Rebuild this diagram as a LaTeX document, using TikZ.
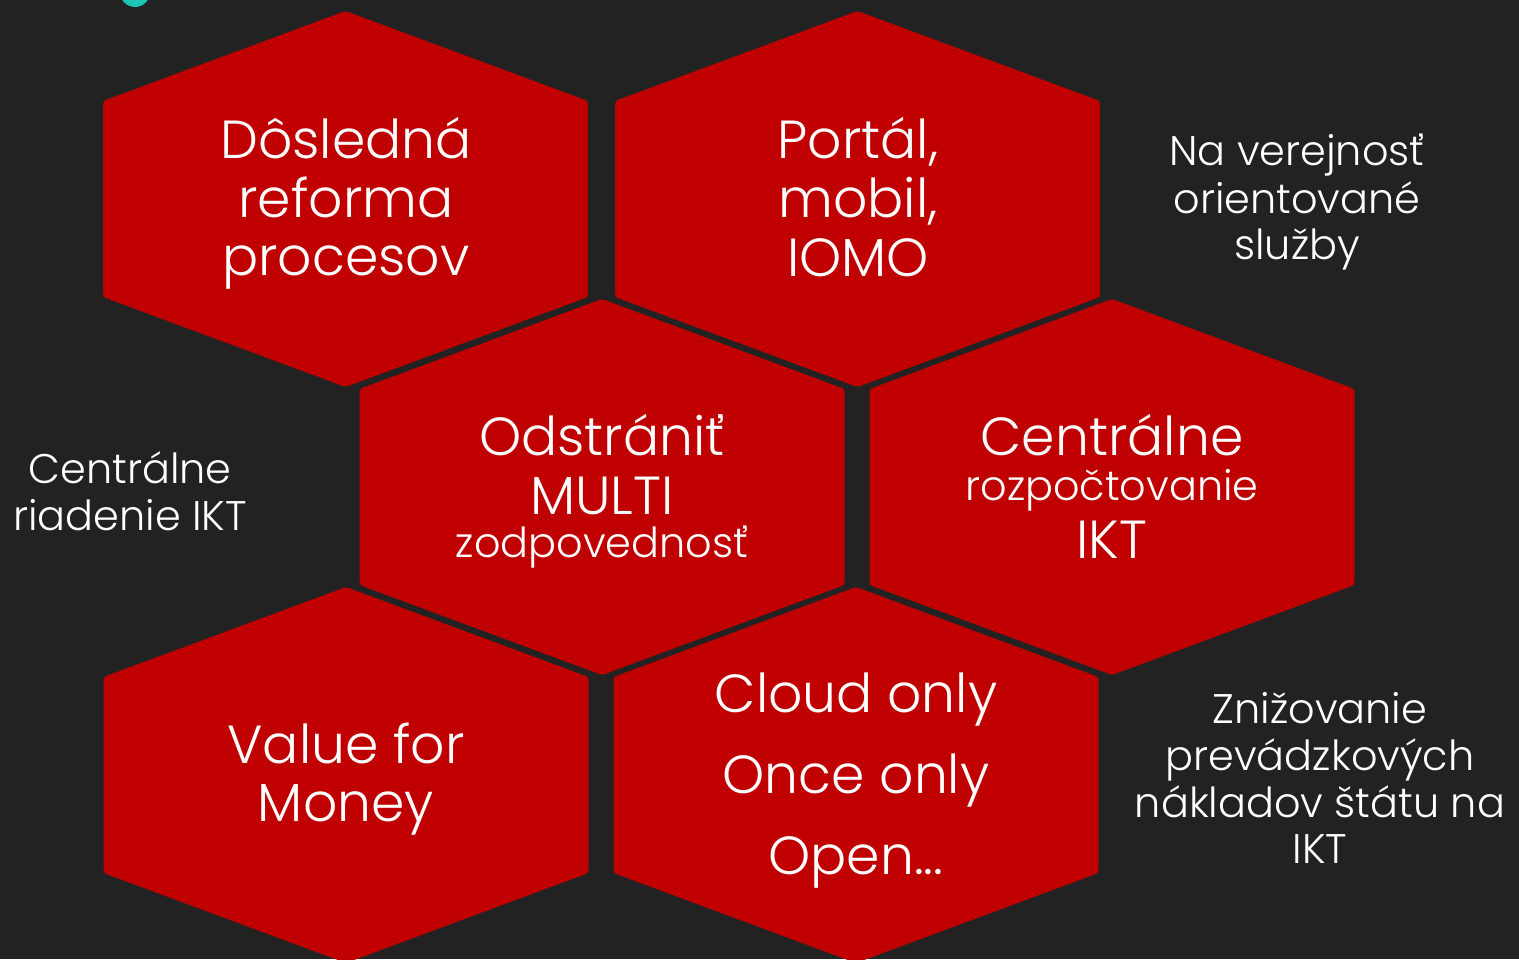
\documentclass[tikz,border=0pt]{standalone}
\usepackage{fontspec}
\setmainfont{Poppins Light}
\definecolor{bg}{HTML}{222222}
\definecolor{hexred}{HTML}{C00000}
\definecolor{tealmark}{RGB}{30,196,180}
\tikzset{
  hexfill/.style={fill=hexred, rounded corners=1.5pt},
  big/.style={text=white, inner sep=0pt, anchor=base, font=\fontsize{26.8pt}{29pt}\selectfont},
  small/.style={text=white, inner sep=0pt, anchor=base, font=\fontsize{20.7pt}{24pt}\selectfont},
}
\newcommand\hexat[2]{\fill[hexfill, shift={(#1,#2)}] (0,-188) -- (242.5,-98) -- (242.5,98) -- (0,188) -- (-242.5,98) -- (-242.5,-98) -- cycle;}
\begin{document}
\begin{tikzpicture}[x=0.5pt, y=-0.5pt]
\fill[bg] (0,0) rectangle (1519,959);
\useasboundingbox (0,0) rectangle (1519,959);
\begin{scope}
\clip (0,0) rectangle (1519,959);
\fill[tealmark] (135,-8) circle (15);
\hexat{345.5}{199}
\hexat{857.5}{199}
\hexat{602}{487}
\hexat{1112}{487}
\hexat{346}{775}
\hexat{856}{775}
\end{scope}
% hex 1
\node[big] (h1a) at (346,158) {Dôsledná};
\node[big] (h1b) at (346,217) {reforma};
\node[big] (h1c) at (346,275) {procesov};
% hex 2
\node[big] (h2a) at (858,158) {Portál,};
\node[big] (h2b) at (858,217) {mobil,};
\node[big] (h2c) at (858,276) {IOMO};
% hex 3
\node[big] (h3a) at (602,455) {Odstrániť};
\node[big] (h3b) at (602,514) {MULTI};
\node[small] (h3c) at (602,557) {zodpovednosť};
% hex 4
\node[big] (h4a) at (1112,455) {Centrálne};
\node[small] (h4b) at (1112,500) {rozpočtovanie};
\node[big] (h4c) at (1112,558) {IKT};
% hex 5
\node[big] (h5a) at (346,763) {Value for};
\node[big] (h5b) at (346,821) {Money};
% hex 6
\node[big] (h6a) at (856,712) {Cloud only};
\node[big] (h6b) at (856,793) {Once only};
\node[big] (h6c) at (856,874) {Open...};
% side texts
\node[small] (la) at (130,483) {Centrálne};
\node[small] (lb) at (130,530) {riadenie IKT};
\node[small] (ra) at (1297,165) {Na verejnosť};
\node[small] (rb) at (1297,213) {orientované};
\node[small] (rc) at (1297,259) {služby};
\node[small] (sa) at (1320,723) {Znižovanie};
\node[small] (sb) at (1320,770) {prevádzkových};
\node[small] (sc) at (1320,817) {nákladov štátu na};
\node[small] (sd) at (1320,863) {IKT};
\end{tikzpicture}
\end{document}
